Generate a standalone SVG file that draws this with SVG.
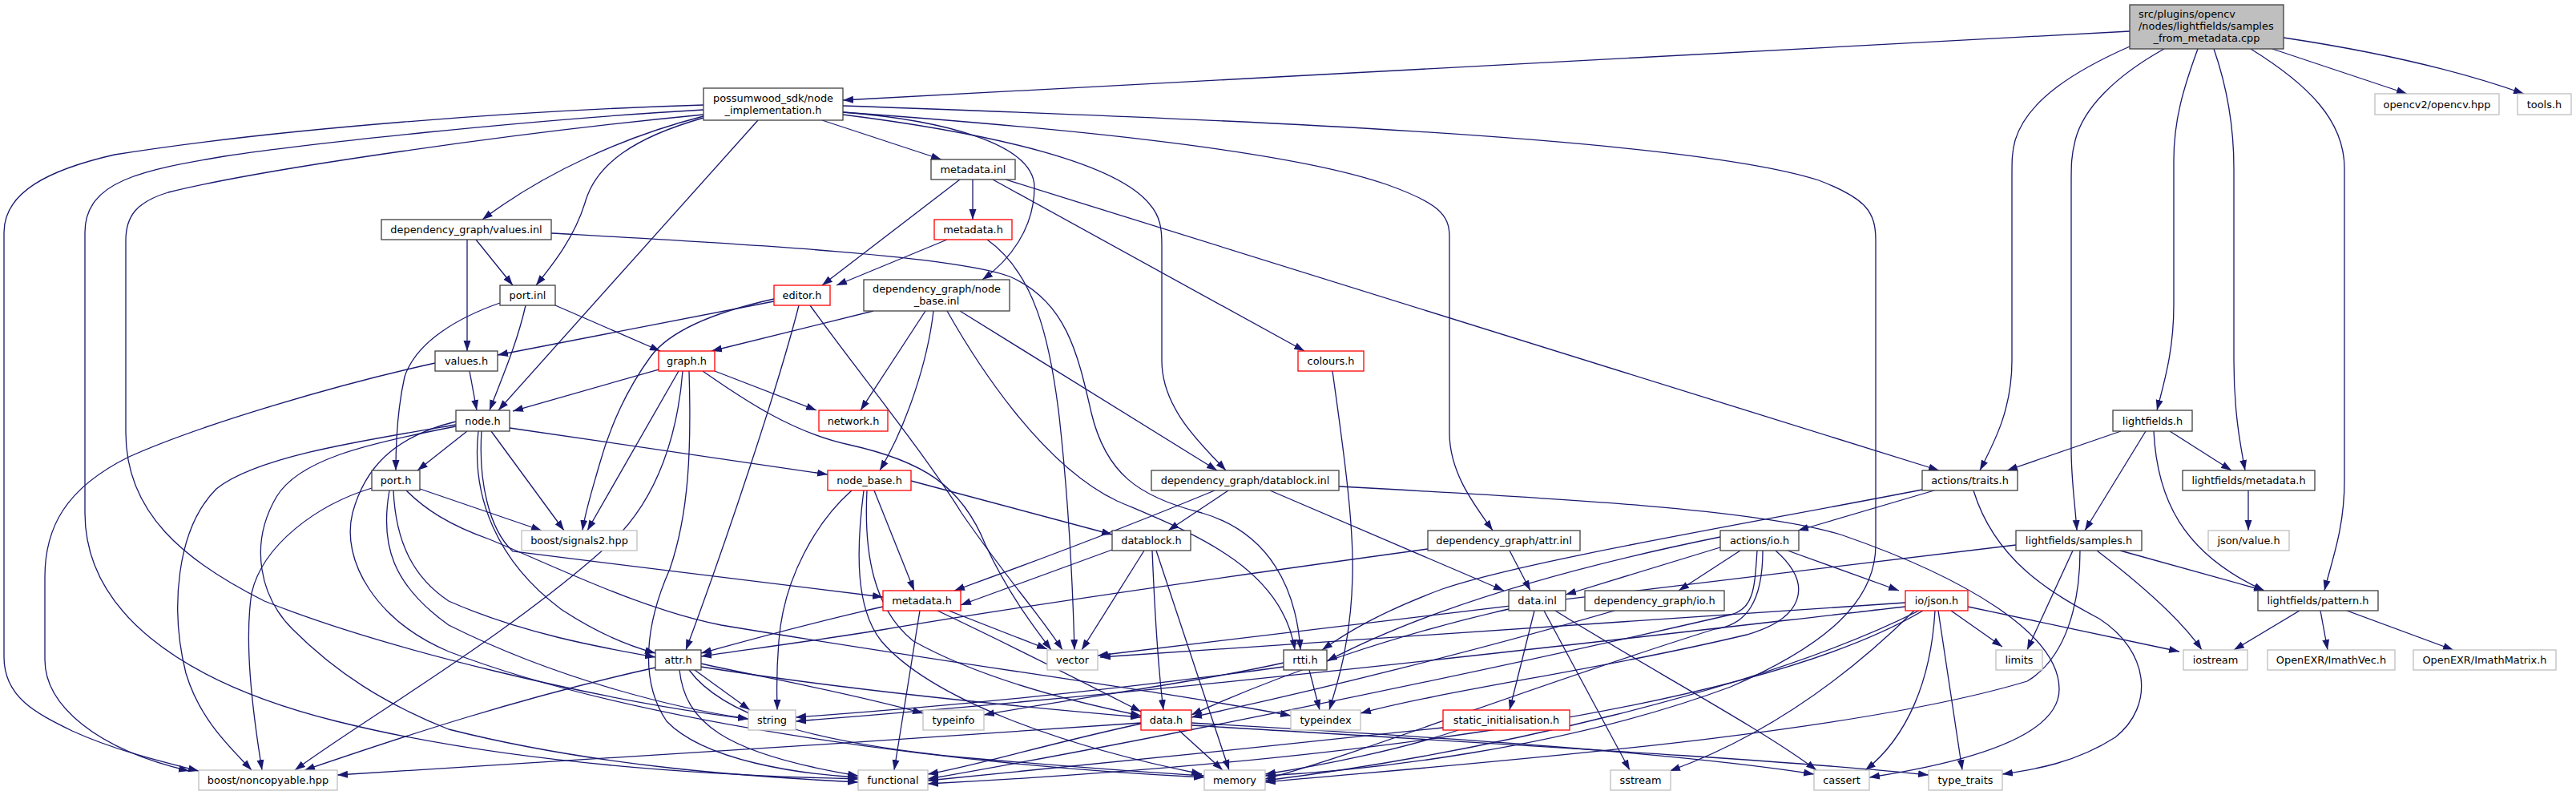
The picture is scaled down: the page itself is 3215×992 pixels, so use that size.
<svg xmlns="http://www.w3.org/2000/svg" width="3215" height="992" viewBox="0 0 3215 992">
<style>
.e{fill:none;stroke:#191970;stroke-width:1.3;marker-end:url(#a)}
.b{fill:#fff;stroke:#404040;stroke-width:1.3}
.m{fill:#bfbfbf;stroke:#404040;stroke-width:1.3}
.r{fill:#fff;stroke:#ff0000;stroke-width:1.3}
.g{fill:#fff;stroke:#bfbfbf;stroke-width:1.3}
text{font-family:"DejaVu Sans","Liberation Sans",sans-serif;font-size:12.9px;fill:#000;text-anchor:middle}
text.s{text-anchor:start}
</style>
<defs>
<marker id="a" markerUnits="userSpaceOnUse" markerWidth="13" markerHeight="10" viewBox="0 0 13 10" refX="13" refY="5" orient="auto"><path d="M0,0.5 L13,5 L0,9.5 z" fill="#191970"/></marker>
</defs>
<rect width="3215" height="992" fill="#fff"/>
<g id="edges">
<path class="e" d="M2658,39 L1052,125"/>
<path class="e" d="M2658,58 C2590,88 2530,125 2515,175 C2511,190 2511,200 2511,220 L2511,450 C2511,510 2490,550 2471,587"/>
<path class="e" d="M2701,61 C2640,95 2600,135 2590,175 C2585,195 2585,205 2585,230 L2585,560 C2585,600 2590,630 2592,662"/>
<path class="e" d="M2743,61 C2725,110 2713,150 2713,200 L2713,380 C2713,440 2700,480 2692,512"/>
<path class="e" d="M2763,61 C2780,110 2788,160 2788,210 L2788,450 C2788,510 2795,550 2802,587"/>
<path class="e" d="M2809,61 C2880,105 2926,150 2926,210 L2926,600 C2926,660 2910,700 2901,737"/>
<path class="e" d="M2836,61 L3004,117"/>
<path class="e" d="M2850,47 C2950,62 3060,85 3150,117"/>
<path class="e" d="M878,131 C650,138 350,160 143,193 C60,212 5,240 5,290 L5,820 C5,870 45,890 90,912 C140,935 200,950 248,962"/>
<path class="e" d="M878,137 C650,150 380,180 280,195 C180,212 106,225 106,290 L106,640 C106,760 220,850 420,900 C640,955 900,968 1071,972"/>
<path class="e" d="M878,143 C650,165 330,210 210,240 C170,252 157,270 157,300 L157,540 C157,640 230,700 330,750 C480,810 750,875 934,897"/>
<path class="e" d="M878,145 C780,170 680,215 602,274"/>
<path class="e" d="M878,147 C790,172 745,205 731,250 C718,295 690,330 669,356"/>
<path class="e" d="M946,150 L622,512"/>
<path class="e" d="M1026,150 L1175,199"/>
<path class="e" d="M1052,140 C1180,150 1290,180 1291,233 C1291,285 1260,325 1226,349"/>
<path class="e" d="M1052,143 C1250,168 1395,205 1435,255 C1448,270 1450,285 1450,305 L1450,450 C1450,510 1500,555 1530,587"/>
<path class="e" d="M1052,140 C1300,158 1600,185 1730,230 C1795,253 1809,268 1809,295 L1809,540 C1809,590 1840,630 1863,662"/>
<path class="e" d="M1052,132 C1500,148 2100,170 2270,225 C2330,248 2341,265 2341,300 L2341,680 C2341,750 2280,805 2160,857 C1950,935 1700,962 1579,968"/>
<path class="e" d="M1214,224 L1214,274"/>
<path class="e" d="M1198,224 L1026,356"/>
<path class="e" d="M1239,224 L1628,438"/>
<path class="e" d="M1255,224 L2420,587"/>
<path class="e" d="M1182,299 L1044,356"/>
<path class="e" d="M1232,299 C1290,340 1310,420 1322,520 C1332,610 1338,700 1341,811"/>
<path class="e" d="M594,299 L640,356"/>
<path class="e" d="M583,299 L583,438"/>
<path class="e" d="M688,291 C900,303 1190,318 1260,345 C1330,375 1345,440 1362,515 C1380,590 1420,620 1500,640 C1585,665 1618,735 1623,811"/>
<path class="e" d="M624,378 C575,395 520,425 505,470 C496,510 494,550 494,587"/>
<path class="e" d="M656,381 C645,430 625,475 611,512"/>
<path class="e" d="M693,381 L824,438"/>
<path class="e" d="M966,376 L621,443"/>
<path class="e" d="M966,373 C880,392 832,418 812,445 C785,482 762,530 748,580 C738,615 730,640 727,662"/>
<path class="e" d="M997,381 C972,480 905,680 856,811"/>
<path class="e" d="M1011,381 C1060,450 1150,560 1200,640 C1255,720 1300,770 1326,811"/>
<path class="e" d="M1090,388 L888,438"/>
<path class="e" d="M1155,388 L1074,512"/>
<path class="e" d="M1165,388 C1158,450 1132,530 1098,587"/>
<path class="e" d="M1182,388 C1220,455 1300,580 1394,625 C1480,662 1600,705 1616,811"/>
<path class="e" d="M1198,388 L1519,587"/>
<path class="e" d="M586,463 L595,512"/>
<path class="e" d="M543,453 C420,480 250,530 161,570 C80,610 56,660 56,720 L56,823 C56,880 120,935 236,962"/>
<path class="e" d="M822,461 L640,513"/>
<path class="e" d="M847,463 L733,662"/>
<path class="e" d="M852,463 C846,540 822,620 765,675 C640,790 450,900 368,961"/>
<path class="e" d="M860,463 C863,560 860,640 836,710 C805,780 798,850 832,900 C880,950 1000,966 1071,970"/>
<path class="e" d="M892,463 L1019,512"/>
<path class="e" d="M877,463 C930,500 990,540 1060,555 C1150,575 1200,605 1230,680 C1258,740 1290,782 1312,811"/>
<path class="e" d="M583,538 L521,587"/>
<path class="e" d="M613,538 L704,662"/>
<path class="e" d="M636,534 L1033,592"/>
<path class="e" d="M601,538 C597,600 610,660 640,688 L1102,745"/>
<path class="e" d="M597,538 C588,620 620,700 700,760 C745,790 785,806 818,815"/>
<path class="e" d="M569,530 C450,550 320,570 270,610 C220,660 212,760 232,840 C250,900 290,935 314,961"/>
<path class="e" d="M569,526 C490,545 455,585 440,640 C425,700 470,775 560,813 C800,905 1200,955 1503,970"/>
<path class="e" d="M569,532 C450,555 372,575 345,620 C310,680 325,745 365,785 C420,840 480,878 560,910 C750,958 950,970 1071,976"/>
<path class="e" d="M464,609 C395,630 328,680 314,740 C305,800 314,880 327,961"/>
<path class="e" d="M524,610 L676,662"/>
<path class="e" d="M507,612 C530,635 560,655 611,673 C700,710 800,760 900,780 C1200,830 1450,862 1611,893"/>
<path class="e" d="M491,612 C494,680 518,722 560,750 C650,790 750,808 818,820"/>
<path class="e" d="M486,612 C474,680 490,730 560,780 C700,850 850,885 934,897"/>
<path class="e" d="M1137,600 L1388,667"/>
<path class="e" d="M1091,612 L1141,737"/>
<path class="e" d="M1063,612 C1020,650 978,720 972,800 C968,850 970,870 970,886"/>
<path class="e" d="M1078,612 C1068,690 1068,760 1100,800 C1160,870 1320,930 1500,966"/>
<path class="e" d="M1082,612 C1078,690 1090,760 1140,800 C1230,850 1350,878 1424,893"/>
<path class="e" d="M1516,612 C1400,660 1260,712 1191,737"/>
<path class="e" d="M1533,612 L1458,662"/>
<path class="e" d="M1585,612 L1877,737"/>
<path class="e" d="M1671,607 C1950,622 2200,636 2300,668 C2450,720 2570,790 2570,860 C2570,920 2450,952 2333,970"/>
<path class="e" d="M1388,686 L1199,755"/>
<path class="e" d="M1428,687 L1350,811"/>
<path class="e" d="M1438,687 C1441,760 1445,830 1452,886"/>
<path class="e" d="M1443,687 L1534,961"/>
<path class="e" d="M1884,687 L1910,737"/>
<path class="e" d="M1782,685 C1600,710 1300,752 1100,786 C1000,802 920,812 875,819"/>
<path class="e" d="M2414,612 L2244,662"/>
<path class="e" d="M2399,611 C2200,650 1900,700 1800,735 C1720,765 1680,790 1650,811"/>
<path class="e" d="M2463,612 C2490,700 2560,740 2620,772 C2682,812 2690,880 2640,920 C2590,952 2540,960 2499,966"/>
<path class="e" d="M1102,757 C1000,780 930,800 875,815"/>
<path class="e" d="M1184,762 L1307,810"/>
<path class="e" d="M1148,762 L1116,961"/>
<path class="e" d="M1170,762 C1250,800 1350,850 1424,888"/>
<path class="e" d="M1634,836 L1647,886"/>
<path class="e" d="M1602,827 C1500,850 1350,870 1228,892"/>
<path class="e" d="M1602,832 C1400,860 1200,880 993,895"/>
<path class="e" d="M1915,762 L1884,886"/>
<path class="e" d="M1927,762 L2034,961"/>
<path class="e" d="M1941,762 C2050,830 2200,910 2267,961"/>
<path class="e" d="M1883,760 C1750,790 1600,840 1487,892"/>
<path class="e" d="M2147,683 L1954,742"/>
<path class="e" d="M2172,687 L2095,737"/>
<path class="e" d="M2231,687 L2370,737"/>
<path class="e" d="M2147,670 C1950,710 1780,760 1656,825"/>
<path class="e" d="M2216,687 C2265,730 2250,772 2180,792 C2000,835 1800,862 1698,890"/>
<path class="e" d="M2193,687 C2190,730 2190,760 2160,767 C1800,850 1400,930 1158,972"/>
<path class="e" d="M2200,687 C2200,750 2180,780 2140,785 C1900,860 1700,940 1579,972"/>
<path class="e" d="M2015,762 C1850,810 1650,860 1487,895"/>
<path class="e" d="M2378,752 L1373,820"/>
<path class="e" d="M2378,757 C2000,800 1500,860 993,900"/>
<path class="e" d="M2435,762 L2499,807"/>
<path class="e" d="M2456,757 L2720,813"/>
<path class="e" d="M2415,762 C2410,850 2380,920 2328,961"/>
<path class="e" d="M2419,762 L2449,961"/>
<path class="e" d="M2389,762 C2300,850 2200,920 2084,962"/>
<path class="e" d="M2395,762 C2200,860 1850,940 1579,974"/>
<path class="e" d="M2400,762 C2200,880 1700,950 1158,978"/>
<path class="e" d="M2516,680 L1370,818"/>
<path class="e" d="M2587,687 L2530,811"/>
<path class="e" d="M2596,687 C2596,750 2580,820 2530,850 C2300,920 1800,955 1579,976"/>
<path class="e" d="M2617,687 C2660,720 2720,770 2748,811"/>
<path class="e" d="M2646,687 L2826,737"/>
<path class="e" d="M2647,538 L2505,587"/>
<path class="e" d="M2678,538 L2602,662"/>
<path class="e" d="M2708,538 L2785,587"/>
<path class="e" d="M2688,538 C2692,620 2722,690 2826,737"/>
<path class="e" d="M2806,612 L2806,662"/>
<path class="e" d="M2870,762 L2788,811"/>
<path class="e" d="M2896,762 L2905,811"/>
<path class="e" d="M2929,762 L3062,811"/>
<path class="e" d="M1663,463 C1675,550 1690,650 1688,720 C1686,800 1670,850 1659,886"/>
<path class="e" d="M867,836 L936,886"/>
<path class="e" d="M818,833 C650,870 500,920 380,961"/>
<path class="e" d="M875,828 C950,845 1050,862 1152,890"/>
<path class="e" d="M875,832 C1050,860 1250,880 1424,895"/>
<path class="e" d="M848,836 C855,900 900,940 1071,968"/>
<path class="e" d="M860,836 C900,890 1000,925 1200,945 C1350,958 1450,965 1503,968"/>
<path class="e" d="M1424,902 C1100,925 700,950 421,967"/>
<path class="e" d="M1424,903 C1300,930 1220,955 1158,966"/>
<path class="e" d="M1471,911 L1526,961"/>
<path class="e" d="M1487,902 C1800,920 2100,940 2264,966"/>
<path class="e" d="M1487,905 C1900,930 2250,950 2407,967"/>
<path class="e" d="M1820,911 C1750,935 1650,955 1579,966"/>
<path class="e" d="M1801,908 C1600,930 1350,955 1158,974"/>
</g>
<g id="src"><rect class="m" x="2658" y="6" width="192" height="55"/><text class="s" x="2669" y="21.5">src/plugins/opencv</text><text class="s" x="2669" y="36.5">/nodes/lightfields/samples</text><text x="2754" y="51.5">_from_metadata.cpp</text></g>
<g id="node_impl"><rect class="b" x="878" y="110" width="174" height="40"/><text x="965" y="126.5">possumwood_sdk/node</text><text x="965" y="141.5">_implementation.h</text></g>
<g id="opencv"><rect class="g" x="2964" y="117" width="155" height="26"/><text x="3041.5" y="134.5">opencv2/opencv.hpp</text></g>
<g id="tools"><rect class="g" x="3142" y="117" width="67" height="26"/><text x="3175.5" y="134.5">tools.h</text></g>
<g id="metadata_inl"><rect class="b" x="1162" y="199" width="105" height="25"/><text x="1214.5" y="216">metadata.inl</text></g>
<g id="values_inl"><rect class="b" x="476" y="274" width="212" height="25"/><text x="582" y="291">dependency_graph/values.inl</text></g>
<g id="metadata_h1"><rect class="r" x="1166" y="274" width="97" height="25"/><text x="1214.5" y="291">metadata.h</text></g>
<g id="port_inl"><rect class="b" x="624" y="356" width="69" height="25"/><text x="658.5" y="373">port.inl</text></g>
<g id="editor"><rect class="r" x="966" y="356" width="70" height="25"/><text x="1001" y="373">editor.h</text></g>
<g id="node_base_inl"><rect class="b" x="1078" y="349" width="182" height="39"/><text x="1169" y="365">dependency_graph/node</text><text x="1169" y="380">_base.inl</text></g>
<g id="values_h"><rect class="b" x="543" y="438" width="78" height="25"/><text x="582" y="455">values.h</text></g>
<g id="graph"><rect class="r" x="822" y="438" width="70" height="25"/><text x="857" y="455">graph.h</text></g>
<g id="colours"><rect class="r" x="1620" y="438" width="82" height="25"/><text x="1661" y="455">colours.h</text></g>
<g id="node_h"><rect class="b" x="569" y="512" width="67" height="26"/><text x="602.5" y="529.5">node.h</text></g>
<g id="network"><rect class="r" x="1022" y="512" width="86" height="26"/><text x="1065" y="529.5">network.h</text></g>
<g id="lightfields_h"><rect class="b" x="2637" y="512" width="99" height="26"/><text x="2686.5" y="529.5">lightfields.h</text></g>
<g id="port_h"><rect class="b" x="464" y="587" width="60" height="25"/><text x="494" y="604">port.h</text></g>
<g id="node_base_h"><rect class="r" x="1033" y="587" width="104" height="25"/><text x="1085" y="604">node_base.h</text></g>
<g id="datablock_inl"><rect class="b" x="1437" y="587" width="234" height="25"/><text x="1554" y="604">dependency_graph/datablock.inl</text></g>
<g id="traits"><rect class="b" x="2399" y="587" width="119" height="25"/><text x="2458.5" y="604">actions/traits.h</text></g>
<g id="lf_metadata"><rect class="b" x="2724" y="587" width="165" height="25"/><text x="2806.5" y="604">lightfields/metadata.h</text></g>
<g id="signals2"><rect class="g" x="651" y="662" width="144" height="25"/><text x="723" y="679">boost/signals2.hpp</text></g>
<g id="datablock_h"><rect class="b" x="1388" y="662" width="98" height="25"/><text x="1437" y="679">datablock.h</text></g>
<g id="attr_inl"><rect class="b" x="1782" y="662" width="190" height="25"/><text x="1877" y="679">dependency_graph/attr.inl</text></g>
<g id="actions_io"><rect class="b" x="2147" y="662" width="98" height="25"/><text x="2196" y="679">actions/io.h</text></g>
<g id="samples"><rect class="b" x="2516" y="662" width="157" height="25"/><text x="2594.5" y="679">lightfields/samples.h</text></g>
<g id="json_value"><rect class="g" x="2756" y="662" width="101" height="25"/><text x="2806.5" y="679">json/value.h</text></g>
<g id="metadata_h2"><rect class="r" x="1102" y="737" width="97" height="25"/><text x="1150.5" y="754">metadata.h</text></g>
<g id="data_inl"><rect class="b" x="1883" y="737" width="71" height="25"/><text x="1918.5" y="754">data.inl</text></g>
<g id="dg_io"><rect class="b" x="1978" y="737" width="174" height="25"/><text x="2065" y="754">dependency_graph/io.h</text></g>
<g id="io_json"><rect class="r" x="2378" y="737" width="78" height="25"/><text x="2417" y="754">io/json.h</text></g>
<g id="pattern"><rect class="b" x="2818" y="737" width="150" height="25"/><text x="2893" y="754">lightfields/pattern.h</text></g>
<g id="attr_h"><rect class="b" x="818" y="811" width="57" height="25"/><text x="846.5" y="828">attr.h</text></g>
<g id="vector"><rect class="g" x="1307" y="811" width="63" height="25"/><text x="1338.5" y="828">vector</text></g>
<g id="rtti"><rect class="b" x="1602" y="811" width="54" height="25"/><text x="1629" y="828">rtti.h</text></g>
<g id="limits"><rect class="g" x="2491" y="811" width="58" height="25"/><text x="2520" y="828">limits</text></g>
<g id="iostream"><rect class="g" x="2725" y="811" width="80" height="25"/><text x="2765" y="828">iostream</text></g>
<g id="imathvec"><rect class="g" x="2830" y="811" width="159" height="25"/><text x="2909.5" y="828">OpenEXR/ImathVec.h</text></g>
<g id="imathmatrix"><rect class="g" x="3012" y="811" width="178" height="25"/><text x="3101" y="828">OpenEXR/ImathMatrix.h</text></g>
<g id="string"><rect class="g" x="934" y="886" width="59" height="25"/><text x="963.5" y="903">string</text></g>
<g id="typeinfo"><rect class="g" x="1152" y="886" width="76" height="25"/><text x="1190" y="903">typeinfo</text></g>
<g id="data_h"><rect class="r" x="1424" y="886" width="63" height="25"/><text x="1455.5" y="903">data.h</text></g>
<g id="typeindex"><rect class="g" x="1611" y="886" width="87" height="25"/><text x="1654.5" y="903">typeindex</text></g>
<g id="static_init"><rect class="r" x="1801" y="886" width="158" height="25"/><text x="1880" y="903">static_initialisation.h</text></g>
<g id="noncopyable"><rect class="g" x="248" y="961" width="173" height="25"/><text x="334.5" y="978">boost/noncopyable.hpp</text></g>
<g id="functional"><rect class="g" x="1071" y="961" width="87" height="25"/><text x="1114.5" y="978">functional</text></g>
<g id="memory"><rect class="g" x="1503" y="961" width="76" height="25"/><text x="1541" y="978">memory</text></g>
<g id="sstream"><rect class="g" x="2010" y="961" width="75" height="25"/><text x="2047.5" y="978">sstream</text></g>
<g id="cassert"><rect class="g" x="2264" y="961" width="69" height="25"/><text x="2298.5" y="978">cassert</text></g>
<g id="type_traits"><rect class="g" x="2407" y="961" width="92" height="25"/><text x="2453" y="978">type_traits</text></g>
</svg>
